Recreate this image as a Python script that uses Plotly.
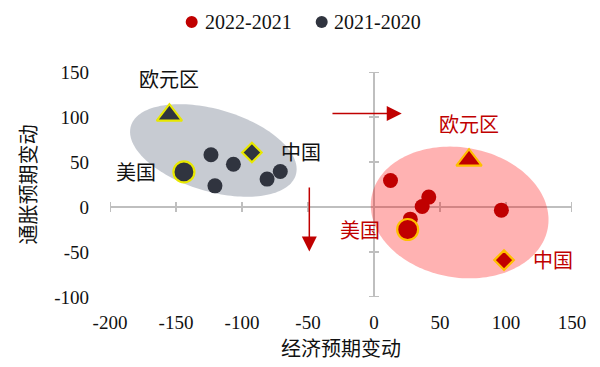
import math
import plotly.graph_objects as go

# ---------------- data ----------------
series_names = ["2022-2021", "2021-2020"]
key_names = ["欧元区", "美国", "中国"]

key_x_2022 = [72, 25.5, 98.5]
key_y_2022 = [52, -25, -59]
other_x_2022 = [12.5, 41.5, 36.5, 96.5, 27.5]
other_y_2022 = [29.5, 11, 0.5, -3.5, -13.5]

key_x_2021 = [-155, -144, -92.5]
key_y_2021 = [102, 39, 60.5]
other_x_2021 = [-123.5, -106.5, -120.5, -81, -71]
other_y_2021 = [58, 47.5, 23.5, 31, 39.5]

x_ticks = [-200, -150, -100, -50, 0, 50, 100, 150]
y_ticks = [-100, -50, 0, 50, 100, 150]

# ---------------- style ----------------
W, H = 600, 367
ML, MR, MT, MB = 110, 28, 72, 70
XR = [-200, 150]
YR = [-100, 150]
KX = (W - ML - MR) / (XR[1] - XR[0])
KY = (H - MT - MB) / (YR[1] - YR[0])

RED = "#C00000"
DARK = "#30343F"
RED_EDGE = "#FFC000"
DARK_EDGE = "#E8E800"
AXIS_GRAY = "#BFBFBF"
SERIF = "Liberation Serif, Times New Roman, serif"
CJK = "Noto Sans CJK SC, sans-serif"

key_symbols = ["triangle-up", "circle", "diamond"]
key_sizes = [22, 21, 15]
label_shift = [(0, 37), (-48, 0), (49, 1)]


def ellipse_path(cx, cy, a_px, b_px, angle_deg, n=160):
    th = math.radians(angle_deg)
    pts = []
    for i in range(n):
        t = 2 * math.pi * i / n
        ux, uy = a_px * math.cos(t), b_px * math.sin(t)
        sx = ux * math.cos(th) - uy * math.sin(th)
        sy = ux * math.sin(th) + uy * math.cos(th)
        pts.append((cx + sx / KX, cy - sy / KY))
    return "M " + " L ".join(f"{x:.3f},{y:.3f}" for x, y in pts) + " Z"


fig = go.Figure()

series = [
    (series_names[0], RED, RED_EDGE, key_x_2022, key_y_2022, other_x_2022, other_y_2022),
    (series_names[1], DARK, DARK_EDGE, key_x_2021, key_y_2021, other_x_2021, other_y_2021),
]

for name, col, edge, kx, ky, ox, oy in series:
    fig.add_trace(go.Scatter(
        x=ox, y=oy, mode="markers", name=name, showlegend=False,
        marker=dict(symbol="circle", size=15, color=col, opacity=1, line=dict(width=0)),
    ))
    fig.add_trace(go.Scatter(
        x=kx, y=ky, mode="markers", name=name, showlegend=False,
        text=key_names,
        marker=dict(symbol=key_symbols, size=key_sizes, color=col, opacity=1,
                    line=dict(width=2.2, color=edge)),
    ))
    lab_col = RED if col == RED else "#111111"
    for nm, x, y, (dx, dy) in zip(key_names, kx, ky, label_shift):
        fig.add_annotation(x=x, y=y, text=nm, showarrow=False, xshift=dx, yshift=dy,
                           font=dict(family=CJK, size=20, color=lab_col))

shapes = []
# cross axes
shapes.append(dict(type="line", xref="x", yref="y", x0=XR[0], x1=XR[1], y0=0, y1=0,
                   line=dict(color=AXIS_GRAY, width=2), layer="below"))
shapes.append(dict(type="line", xref="x", yref="y", x0=0, x1=0, y0=YR[0], y1=YR[1],
                   line=dict(color=AXIS_GRAY, width=2), layer="below"))
for t in x_ticks:
    shapes.append(dict(type="line", xref="x", yref="y", ysizemode="pixel", yanchor=0,
                       x0=t, x1=t, y0=-5, y1=5, line=dict(color=AXIS_GRAY, width=2), layer="below"))
for t in y_ticks:
    shapes.append(dict(type="line", xref="x", yref="y", xsizemode="pixel", xanchor=0,
                       y0=t, y1=t, x0=-5, x1=5, line=dict(color=AXIS_GRAY, width=2), layer="below"))
# clusters
shapes.append(dict(type="path", xref="x", yref="y", path=ellipse_path(-121.7, 62.8, 86, 41, 16.5),
                   fillcolor="rgba(68,84,106,0.3)", line=dict(width=0), layer="below"))
shapes.append(dict(type="path", xref="x", yref="y", path=ellipse_path(64.9, -6.1, 89.5, 65, 10),
                   fillcolor="rgba(255,0,0,0.3)", line=dict(width=0), layer="below"))

# legend (manual)
leg_y = 1.222
for name, col, xd, xt in [(series_names[0], RED, 0.1768, 0.2013), (series_names[1], DARK, 0.4582, 0.4797)]:
    shapes.append(dict(type="circle", xref="paper", yref="paper", xsizemode="pixel", ysizemode="pixel",
                       xanchor=xd, yanchor=leg_y, x0=-6, x1=6, y0=-6, y1=6,
                       fillcolor=col, line=dict(width=0)))
    fig.add_annotation(xref="paper", yref="paper", x=xt, y=leg_y, xanchor="left", yanchor="middle",
                       text=name, showarrow=False, font=dict(family=SERIF, size=20, color="#111111"))

# arrows
fig.add_annotation(x=21, y=104, ax=-32.6, ay=104, xref="x", yref="y", axref="x", ayref="y",
                   text="", showarrow=True, arrowhead=2, arrowsize=2, arrowwidth=1.5, arrowcolor=RED)
fig.add_annotation(x=-49, y=-49.5, ax=-49, ay=23.3, xref="x", yref="y", axref="x", ayref="y",
                   text="", showarrow=True, arrowhead=2, arrowsize=2, arrowwidth=1.5, arrowcolor=RED)

fig.update_layout(
    width=W, height=H,
    margin=dict(l=ML, r=MR, t=MT, b=MB, autoexpand=False),
    paper_bgcolor="white", plot_bgcolor="white",
    shapes=shapes, showlegend=False,
    xaxis=dict(range=XR, tickvals=x_ticks, ticktext=[str(v) for v in x_ticks],
               showgrid=False, zeroline=False, showline=False, ticks="",
               ticklabelstandoff=12, tickfont=dict(family=SERIF, size=19, color="#111111"),
               title=dict(text="经济预期变动", standoff=4, font=dict(family=CJK, size=20, color="#111111"))),
    yaxis=dict(range=YR, tickvals=y_ticks, ticktext=[str(v) for v in y_ticks],
               showgrid=False, zeroline=False, showline=False, ticks="",
               ticklabelstandoff=20, tickfont=dict(family=SERIF, size=19, color="#111111"),
               title=dict(text="通胀预期变动", standoff=12, font=dict(family=CJK, size=20, color="#111111"))),
)

fig.write_html("out.html")
